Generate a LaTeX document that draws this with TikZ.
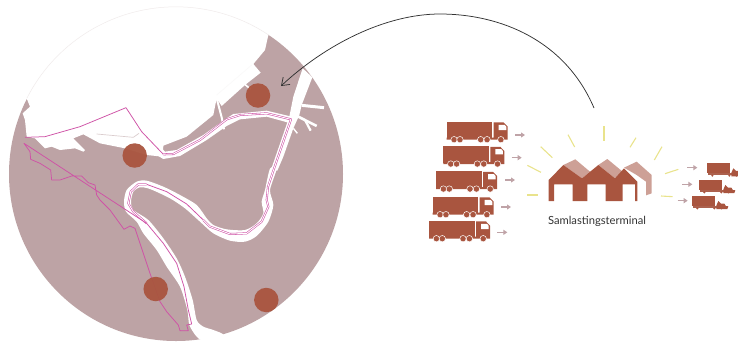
\documentclass[tikz,border=0pt]{standalone}
\usepackage{fontspec}
\setmainfont{Lato}
\usetikzlibrary{arrows.meta}
\definecolor{land}{HTML}{BDA3A5}
\definecolor{brick}{HTML}{A9553F}
\definecolor{roof}{HTML}{CDA096}
\definecolor{ray}{HTML}{E9E38C}
\definecolor{border}{HTML}{CF52A6}
\definecolor{flow}{HTML}{BFA3A7}
\tikzset{
  x=1pt,y=-1pt,
  z1/.style={x=0.33333pt,y=-0.33333pt},
  water/.style={fill=white,draw=none},
  hub/.style={circle,fill=brick,fill opacity=.95,draw=none,minimum size=24.5pt,inner sep=0pt},
  limit/.style={draw=border,line width=.75pt,line join=round},
  limitd/.style={draw=border,line width=.55pt,double=white,double distance=.9pt,line join=round},
  rayline/.style={draw=ray,line width=1.1pt},
  flowarrow/.style={draw=flow,line width=1.4pt,-{Triangle[length=4pt,width=5pt]}},
  bigtruck/.pic={
    \begin{scope}[x=1pt,y=-1pt]
    \fill[brick] (0,0) rectangle (45.5,17);
    \fill[brick] (47,.8) -- (57,.8) -- (61,5) -- (61,18) -- (0,18) -- (0,16) -- (47,16) -- cycle;
    \fill[white] (52,3.2) -- (58,3.2) -- (59.6,5) -- (59.6,8.4) -- (52,8.4) -- cycle;
    \foreach \wx in {7.4,13.3,34,40.4,54.2}
      \fill[brick,draw=white,line width=.5pt] (\wx,18) circle (3.2);
    \end{scope}
  },
  smalltruck/.pic={
    \begin{scope}[x=1pt,y=-1pt]
    \fill[brick] (0,0) rectangle (23,10);
    \fill[brick!85!land] (1,10) rectangle (36,12);
    \fill[brick] (24,9.5) -- (26,5) -- (28.5,7.5) -- (32,7.5) -- (33.5,10) -- (36,10.5) -- (35,13) -- (24,13) -- cycle;
    \foreach \wx in {5,22,29} \fill[brick] (\wx,12.3) circle (1.2);
    \end{scope}
  }
}
\begin{document}
\begin{tikzpicture}
\useasboundingbox (0,0) rectangle (738,341);
% map disc
\fill[land] (176,174) circle (167);
\begin{scope}[z1]
  % sea
  \fill[water] (0,0) -- (805,0) -- (805,105) -- (795,150) -- (760,192) -- (782,218) -- (735,255) -- (665,318) -- (650,295) -- (640,345) -- (560,410) -- (490,437) -- (488,470) -- (440,465) -- (375,445) -- (300,430) -- (250,403) -- (220,415) -- (255,450) -- (250,455) -- (225,445) -- (180,450) -- (155,440) -- (135,445) -- (105,415) -- (80,410) -- (75,360) -- (68,340) -- (90,320) -- (80,295) -- (0,295) -- cycle;
  % north reach of the river
  \fill[water] (480,440) -- (495,455) -- (530,450) -- (610,405) -- (680,355) -- (700,342) -- (800,332) -- (875,350) -- (880,372) -- (800,350) -- (720,358) -- (680,378) -- (620,420) -- (540,468) -- (490,477) -- (470,465) -- cycle;
  % ship channel
  \fill[water] (908,205) -- (937,232) -- (905,315) -- (898,345) -- (880,385) -- (850,470) -- (832,512) -- (812,512) -- (868,350) -- (880,290) -- cycle;
  \draw[white,line width=3pt] (905,316) -- (972,323);
  \draw[white,line width=2.6pt] (885,345) -- (950,378);
  \draw[white,line width=2.2pt] (915,360) -- (932,392);
  \draw[white,line width=1.4pt] (880,385) -- (892,400);
  % spurs
  \draw[white,line width=2pt] (650,295) -- (665,352) -- (672,388);
  \draw[white,line width=1.6pt] (725,245) -- (752,268);
  \draw[white!93!land,line width=.6pt] (650,285) -- (755,195);
  \draw[land!55!white,line width=.7pt] (290,402) -- (400,412) -- (417,400);
\end{scope}
% meander of the river
\begin{scope}[z1,shift={(0,510)}]
  \fill[water] plot[smooth cycle,tension=.45] coordinates {
    (810,-4) (795,60) (785,95) (790,130) (770,160) (735,180) (680,178) (640,165) (620,145) (590,105) (540,75) (490,50) (440,32) (410,35) (380,60) (372,95) (378,125) (410,155) (430,190) (470,240) (500,290) (540,350) (562,420) (568,465) (590,500) (612,512) (670,495) (640,480) (610,470) (590,450) (578,390) (555,320) (530,265) (490,205) (445,150) (400,120) (393,95) (400,65) (420,52) (450,57) (510,85) (555,115) (600,155) (640,190) (690,212) (735,215) (770,198) (805,155) (820,105) (810,60) (830,-4)};
\end{scope}
% municipal border
\begin{scope}[z1]
  \draw[limit] (378,323) -- (425,395) -- (490,463);
  \draw[limit] (75,412) -- (135,410) -- (240,380) -- (378,323);
  \path[limitd] (490,463) -- (520,462) -- (600,420) -- (680,358) -- (720,345) -- (800,340) -- (873,358) -- (820,512) -- (804,560) -- (800,600);
  \path[limitd] (800,600) -- (805,620) -- (785,665) -- (740,700) -- (690,702) -- (630,680) -- (610,660);
  \draw[limit] (610,660) -- (560,612) -- (500,575) -- (440,553);
  \path[limitd] (440,553) -- (415,553) -- (392,575) -- (385,610) -- (400,635) -- (440,670);
  \draw[limit] (440,670) -- (490,730) -- (530,790) -- (552,860) -- (565,930) -- (575,972) -- (560,975) -- (565,992) -- (540,992) -- (535,975) -- (500,935) -- (480,905) -- (450,820) -- (430,760) -- (405,685) -- (390,678) -- (372,688) -- (330,630) -- (300,600) -- (290,585) -- (285,555) -- (265,548) -- (245,528) -- (215,528) -- (180,540) -- (155,540) -- (152,510) -- (120,490) -- (92,478) -- (90,455) -- (72,430) -- cycle;
\end{scope}
% rim of the disc, only visible over the sea
\draw[land!22!white,line width=.5pt] (27,98) arc[start angle=207,end angle=304,radius=167];
% terminals
\node[hub] (hubNorth) at (258,95.5) {};
\node[hub] (hubWest) at (134.7,155.5) {};
\node[hub] (hubSouth) at (155.7,289) {};
\node[hub] (hubEast) at (266.3,300) {};
% connector
\coordinate (from) at (594,108);
\coordinate (to) at (281,86);
\draw[draw=black!80,line width=.75pt,-{Straight Barb[length=7pt,width=10pt]}] (from) .. controls (565,40) and (500,14) .. (440,14) .. controls (385,14) and (325,45) .. (to);
% trucks and rays
\begin{scope}[shift={(420,100)},z1]
  \foreach \tx/\ty in {80/65,70/138,48/213,38/290,27/362}
    \pic at (\tx,\ty) {bigtruck};
  \foreach \ax/\ay in {285/105,275/173,255/240,243/321,232/397,802/203,787/253,773/302}
    \draw[flowarrow] (\ax,\ay) -- ++(30,0);
  \foreach \tx/\ty in {862/190,838/240,817/288}
    \pic at (\tx,\ty) {smalltruck};
  \foreach \ra/\rb/\rc/\rd in {322/285/355/285,322/196/363/217,362/140/397/173,444/104/464/141,552/78/552/123,648/113/630/142,726/140/703/180,775/208/735/221,723/288/758/290}
    \draw[rayline] (\ra,\rb) -- (\rc,\rd);
  % terminal building
  \fill[roof] (430,195) -- (466,178) -- (510,215) -- (486,235) -- cycle;
  \fill[roof] (535,195) -- (562,177) -- (608,215) -- (585,235) -- cycle;
  \fill[roof] (612,203) -- (650,185) -- (695,225) -- (695,280) -- (678,286) -- (678,245) -- (650,225) -- cycle;
  \fill[brick] (386,303) -- (386,240) -- (430,195) -- (486,235) -- (535,195) -- (585,235) -- (612,205) -- (652,245) -- (652,303) -- (645,303) -- (645,253) -- (608,253) -- (608,303) -- (557,303) -- (557,253) -- (502,253) -- (502,303) -- (458,303) -- (458,253) -- (402,253) -- (402,303) -- cycle;
\end{scope}
\node[inner sep=0pt,text=black!80,font=\fontsize{11.2}{13}\selectfont] (label) at (597,221) {Samlastingsterminal};
\end{tikzpicture}
\end{document}
